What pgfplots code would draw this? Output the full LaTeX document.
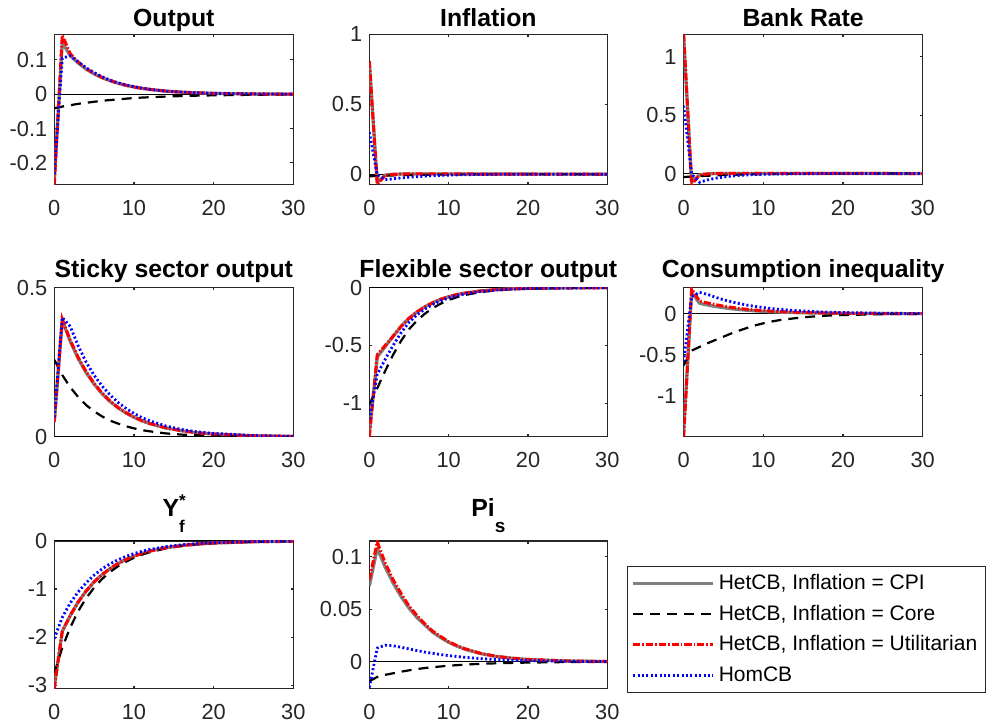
\documentclass[border=0pt]{standalone}
\usepackage{fontspec}
\setmainfont{Liberation Sans}
\usepackage{pgfplots}
\pgfplotsset{compat=1.18}
\definecolor{mgray}{rgb}{0.15,0.15,0.15}
\definecolor{cgray}{rgb}{0.5,0.5,0.5}
\pgfplotsset{
  panel/.style={scale only axis, anchor=south west, xmin=0, xmax=30,
    xtick={0,10,20,30}, xticklabels={0,10,20,30},
    axis line style={draw=mgray, line width=0.55pt},
    tick style={draw=mgray, line width=0.55pt}, major tick length=1.4pt, tick align=inside,
    ticklabel style={font=\fontsize{10.9}{12}\selectfont, text=mgray},
    xticklabel style={yshift=-4.2pt},
    /pgf/number format/assume math mode=true,
    every axis title/.style={font=\bfseries\fontsize{12.4}{14}\selectfont, at={(0.5,1)}, anchor=base, inner sep=0pt},
    clip=true},
  s1/.style={draw=cgray, line width=1.6pt, line join=round, solid},
  s2/.style={draw=black, line width=1.1pt, dash pattern=on 5pt off 3.5pt},
  s3/.style={draw=red, line width=1.5pt, dash pattern=on 3.6pt off 1pt on 0.8pt off 1pt},
  s4/.style={draw=blue, line width=1.4pt, dash pattern=on 1pt off 1.2pt},
  zl/.style={draw=black, line width=0.5pt, solid},
}
\begin{document}
\begin{tikzpicture}
\path[use as bounding box] (0,0) rectangle (496pt,362pt);
% ---------- Output ----------
\begin{axis}[panel, at={(27.15pt,269.75pt)}, width=119.5pt, height=75pt,
  ymin=-0.263, ymax=0.174, ytick={-0.2,-0.1,0,0.1}, yticklabels={-0.2,-0.1,0,0.1},
  title={Output}, title style={yshift=3.9pt}]
\addplot[zl] coordinates {(0,0) (30,0)};
\addplot[s1] coordinates {(0,-0.25)(1,0.15)(2,0.112)(3,0.091)(4,0.073)(5,0.059)(6,0.048)(7,0.039)(8,0.032)(9,0.026)(10,0.021)(11,0.017)(12,0.014)(14,0.009)(16,0.006)(18,0.004)(20,0.0025)(25,0.0008)(30,0.0002)};
\addplot[s2] coordinates {(0,-0.041)(1,-0.036)(2,-0.032)(3,-0.028)(4,-0.025)(5,-0.022)(6,-0.019)(7,-0.017)(8,-0.015)(9,-0.013)(10,-0.011)(11,-0.0098)(12,-0.0087)(14,-0.0068)(16,-0.0053)(18,-0.0041)(20,-0.0032)(25,-0.0016)(30,-0.0008)};
\addplot[s3] coordinates {(0,-0.263)(1,0.172)(2,0.118)(3,0.094)(4,0.075)(5,0.06)(6,0.049)(7,0.04)(8,0.032)(9,0.026)(10,0.021)(11,0.017)(12,0.014)(14,0.009)(16,0.006)(18,0.004)(20,0.0025)(25,0.0008)(30,0.0002)};
\addplot[s4] coordinates {(0,-0.232)(1,0.105)(2,0.112)(3,0.094)(4,0.077)(5,0.063)(6,0.051)(7,0.041)(8,0.033)(9,0.027)(10,0.022)(11,0.018)(12,0.014)(14,0.009)(16,0.006)(18,0.004)(20,0.0025)(25,0.0008)(30,0.0002)};
\end{axis}
% ---------- Inflation ----------
\begin{axis}[panel, at={(184.67pt,269.75pt)}, width=119pt, height=75pt,
  ymin=-0.074, ymax=1, ytick={0,0.5,1}, yticklabels={0,0.5,1},
  title={Inflation}, title style={yshift=3.9pt}]
\addplot[zl] coordinates {(0,0) (30,0)};
\addplot[s1] coordinates {(0,0.80)(1,-0.06)(2,-0.006)(3,-0.001)(4,0.001)(6,0.002)(8,0.002)(10,0.002)(14,0.001)(20,0.0005)(30,0)};
\addplot[s2] coordinates {(0,-0.015)(1,-0.013)(2,-0.011)(3,-0.009)(4,-0.0075)(5,-0.006)(6,-0.005)(8,-0.0033)(10,-0.0022)(12,-0.0014)(14,-0.0009)(16,-0.0006)(20,-0.0002)(30,0)};
\addplot[s3] coordinates {(0,0.81)(1,-0.074)(2,-0.008)(3,-0.002)(4,0.001)(6,0.002)(8,0.002)(10,0.002)(14,0.001)(20,0.0005)(30,0)};
\addplot[s4] coordinates {(0,0.30)(1,-0.005)(2,-0.04)(3,-0.033)(4,-0.027)(5,-0.022)(6,-0.018)(7,-0.014)(8,-0.011)(10,-0.007)(12,-0.004)(14,-0.002)(16,-0.001)(20,0)(30,0)};
\end{axis}
% ---------- Bank Rate ----------
\begin{axis}[panel, at={(341.83pt,269.75pt)}, width=119.5pt, height=75pt,
  ymin=-0.094, ymax=1.19, ytick={0,0.5,1}, yticklabels={0,0.5,1},
  title={Bank Rate}, title style={yshift=3.9pt}]
\addplot[zl] coordinates {(0,0) (30,0)};
\addplot[s1] coordinates {(0,1.17)(1,-0.075)(2,-0.01)(3,-0.003)(4,0)(6,0.001)(10,0.001)(15,0.0005)(30,0)};
\addplot[s2] coordinates {(0,-0.03)(1,-0.026)(2,-0.022)(3,-0.019)(4,-0.016)(5,-0.013)(6,-0.011)(7,-0.009)(8,-0.0075)(10,-0.005)(12,-0.0035)(14,-0.0025)(16,-0.0017)(20,-0.0008)(25,-0.0003)(30,0)};
\addplot[s3] coordinates {(0,1.19)(1,-0.094)(2,-0.012)(3,-0.004)(4,0)(6,0.001)(10,0.001)(15,0.0005)(30,0)};
\addplot[s4] coordinates {(0,0.58)(1,-0.005)(2,-0.075)(3,-0.055)(4,-0.04)(5,-0.03)(6,-0.022)(7,-0.016)(8,-0.012)(9,-0.009)(10,-0.007)(11,-0.005)(12,-0.004)(14,-0.002)(16,-0.001)(20,0)(30,0)};
\end{axis}
% ---------- Sticky sector output ----------
\begin{axis}[panel, at={(27.15pt,143.65pt)}, width=119.5pt, height=74.5pt,
  ymin=0, ymax=0.5, ytick={0,0.5}, yticklabels={0,0.5},
  title={Sticky sector output}, title style={yshift=5.2pt}]
\addplot[zl] coordinates {(0,0) (30,0)};
\addplot[s1] coordinates {(0,0.05)(1,0.39)(2,0.32)(3,0.262)(4,0.215)(5,0.176)(6,0.144)(7,0.118)(8,0.097)(9,0.079)(10,0.065)(11,0.053)(12,0.044)(14,0.029)(16,0.02)(18,0.013)(20,0.009)(25,0.003)(30,0.001)};
\addplot[s2] coordinates {(0,0.258)(1,0.207)(2,0.166)(3,0.133)(4,0.106)(5,0.085)(6,0.068)(7,0.054)(8,0.044)(9,0.035)(10,0.028)(11,0.022)(12,0.018)(14,0.011)(16,0.007)(18,0.005)(20,0.003)(25,0.001)(30,0)};
\addplot[s3] coordinates {(0,0.05)(1,0.395)(2,0.324)(3,0.266)(4,0.218)(5,0.179)(6,0.146)(7,0.12)(8,0.098)(9,0.081)(10,0.066)(11,0.054)(12,0.044)(14,0.03)(16,0.02)(18,0.013)(20,0.009)(25,0.003)(30,0.001)};
\addplot[s4] coordinates {(0,0.065)(1,0.40)(2,0.37)(3,0.305)(4,0.25)(5,0.206)(6,0.17)(7,0.14)(8,0.115)(9,0.095)(10,0.078)(11,0.064)(12,0.053)(14,0.036)(16,0.024)(18,0.016)(20,0.011)(25,0.004)(30,0.001)};
\end{axis}
% ---------- Flexible sector output ----------
\begin{axis}[panel, at={(184.67pt,143.65pt)}, width=119pt, height=74.5pt,
  ymin=-1.29, ymax=0, ytick={-1,-0.5,0}, yticklabels={-1,-0.5,0},
  title={Flexible sector output}, title style={yshift=5.2pt}]
\addplot[zl] coordinates {(0,0) (30,0)};
\addplot[s1] coordinates {(0,-1.26)(1,-0.60)(2,-0.51)(3,-0.42)(4,-0.335)(5,-0.265)(6,-0.21)(7,-0.165)(8,-0.13)(9,-0.1)(10,-0.078)(11,-0.06)(12,-0.047)(14,-0.028)(16,-0.017)(18,-0.01)(20,-0.006)(25,-0.002)(30,0)};
\addplot[s2] coordinates {(0,-1.01)(1,-0.87)(2,-0.72)(3,-0.58)(4,-0.46)(5,-0.36)(6,-0.285)(7,-0.225)(8,-0.177)(9,-0.138)(10,-0.107)(11,-0.083)(12,-0.064)(14,-0.038)(16,-0.023)(18,-0.014)(20,-0.008)(25,-0.002)(30,0)};
\addplot[s3] coordinates {(0,-1.29)(1,-0.58)(2,-0.5)(3,-0.42)(4,-0.335)(5,-0.265)(6,-0.21)(7,-0.165)(8,-0.13)(9,-0.1)(10,-0.078)(11,-0.06)(12,-0.047)(14,-0.028)(16,-0.017)(18,-0.01)(20,-0.006)(25,-0.002)(30,0)};
\addplot[s4] coordinates {(0,-1.14)(1,-0.75)(2,-0.62)(3,-0.5)(4,-0.39)(5,-0.3)(6,-0.235)(7,-0.185)(8,-0.145)(9,-0.113)(10,-0.088)(11,-0.069)(12,-0.054)(14,-0.033)(16,-0.02)(18,-0.012)(20,-0.007)(25,-0.002)(30,0)};
\end{axis}
% ---------- Consumption inequality ----------
\begin{axis}[panel, at={(341.83pt,143.65pt)}, width=119.5pt, height=74.5pt,
  ymin=-1.5, ymax=0.317, ytick={-1,-0.5,0}, yticklabels={-1,-0.5,0},
  title={Consumption inequality}, title style={yshift=5.2pt}]
\addplot[zl] coordinates {(0,0) (30,0)};
\addplot[s1] coordinates {(0,-1.45)(1,0.26)(2,0.126)(3,0.105)(4,0.088)(5,0.073)(6,0.06)(7,0.05)(8,0.041)(9,0.034)(10,0.028)(11,0.023)(12,0.019)(14,0.013)(16,0.009)(18,0.006)(20,0.004)(25,0.0015)(30,0.0005)};
\addplot[s2] coordinates {(0,-0.63)(1,-0.45)(2,-0.405)(3,-0.36)(4,-0.32)(5,-0.28)(6,-0.24)(7,-0.205)(8,-0.172)(9,-0.142)(10,-0.117)(11,-0.096)(12,-0.079)(14,-0.055)(16,-0.036)(18,-0.024)(20,-0.016)(25,-0.006)(30,-0.002)};
\addplot[s3] coordinates {(0,-1.5)(1,0.30)(2,0.155)(3,0.13)(4,0.11)(5,0.092)(6,0.077)(7,0.064)(8,0.053)(9,0.044)(10,0.037)(11,0.031)(12,0.026)(14,0.018)(16,0.012)(18,0.008)(20,0.006)(25,0.002)(30,0.001)};
\addplot[s4] coordinates {(0,-0.585)(1,0.21)(2,0.26)(3,0.235)(4,0.2)(5,0.17)(6,0.145)(7,0.123)(8,0.104)(9,0.088)(10,0.075)(11,0.063)(12,0.053)(14,0.038)(16,0.027)(18,0.019)(20,0.014)(25,0.005)(30,0.002)};
\end{axis}
% ---------- Y_f^* ----------
\begin{axis}[panel, at={(27.15pt,17.75pt)}, width=119.5pt, height=73.75pt,
  ymin=-3.07, ymax=0, ytick={-3,-2,-1,0}, yticklabels={-3,-2,-1,0},
  title={Y\rlap{\raisebox{5.4pt}{\fontsize{8.5}{9}\selectfont *}}\raisebox{-7.6pt}{\fontsize{8.5}{9}\selectfont f}}, title style={yshift=12pt}]
\addplot[zl] coordinates {(0,0) (30,0)};
\addplot[s1] coordinates {(0,-3.03)(1,-1.88)(2,-1.55)(3,-1.27)(4,-1.04)(5,-0.85)(6,-0.7)(7,-0.575)(8,-0.47)(9,-0.385)(10,-0.315)(11,-0.26)(12,-0.21)(14,-0.14)(16,-0.095)(18,-0.063)(20,-0.042)(25,-0.015)(30,-0.005)};
\addplot[s2] coordinates {(0,-2.76)(1,-2.22)(2,-1.8)(3,-1.46)(4,-1.19)(5,-0.97)(6,-0.79)(7,-0.645)(8,-0.525)(9,-0.43)(10,-0.35)(11,-0.285)(12,-0.233)(14,-0.155)(16,-0.103)(18,-0.069)(20,-0.046)(25,-0.016)(30,-0.006)};
\addplot[s3] coordinates {(0,-3.07)(1,-1.88)(2,-1.55)(3,-1.27)(4,-1.04)(5,-0.85)(6,-0.7)(7,-0.575)(8,-0.47)(9,-0.385)(10,-0.315)(11,-0.26)(12,-0.21)(14,-0.14)(16,-0.095)(18,-0.063)(20,-0.042)(25,-0.015)(30,-0.005)};
\addplot[s4] coordinates {(0,-2.03)(1,-1.59)(2,-1.29)(3,-1.06)(4,-0.87)(5,-0.71)(6,-0.58)(7,-0.475)(8,-0.39)(9,-0.32)(10,-0.262)(11,-0.215)(12,-0.176)(14,-0.118)(16,-0.079)(18,-0.053)(20,-0.035)(25,-0.012)(30,-0.004)};
\end{axis}
% ---------- Pi_s ----------
\begin{axis}[panel, at={(184.67pt,17.75pt)}, width=119pt, height=73.75pt,
  ymin=-0.0255, ymax=0.115, ytick={0,0.05,0.1}, yticklabels={0,0.05,0.1},
  title={Pi\raisebox{-7.8pt}{\fontsize{9.5}{10}\selectfont s}}, title style={yshift=12pt}]
\addplot[zl] coordinates {(0,0) (30,0)};
\addplot[s1] coordinates {(0,0.072)(1,0.108)(2,0.09)(3,0.075)(4,0.062)(5,0.051)(6,0.042)(7,0.035)(8,0.028)(9,0.023)(10,0.0185)(11,0.015)(12,0.012)(14,0.0078)(16,0.005)(18,0.0033)(20,0.0021)(25,0.0007)(30,0.0002)};
\addplot[s2] coordinates {(0,-0.0185)(1,-0.0145)(2,-0.0125)(3,-0.011)(4,-0.0095)(5,-0.0082)(6,-0.007)(7,-0.006)(8,-0.0052)(9,-0.0045)(10,-0.0038)(11,-0.0033)(12,-0.0028)(14,-0.002)(16,-0.0015)(18,-0.0011)(20,-0.0008)(25,-0.0003)(30,-0.0001)};
\addplot[s3] coordinates {(0,0.078)(1,0.114)(2,0.094)(3,0.078)(4,0.065)(5,0.053)(6,0.044)(7,0.036)(8,0.029)(9,0.024)(10,0.019)(11,0.0155)(12,0.0125)(14,0.008)(16,0.0052)(18,0.0034)(20,0.0022)(25,0.0007)(30,0.0002)};
\addplot[s4] coordinates {(0,-0.0245)(1,0.013)(2,0.0158)(3,0.0152)(4,0.0138)(5,0.0122)(6,0.0106)(7,0.0092)(8,0.008)(9,0.0068)(10,0.0058)(11,0.005)(12,0.0042)(14,0.003)(16,0.0021)(18,0.0015)(20,0.001)(25,0.0004)(30,0.0001)};
\end{axis}
% ---------- Legend ----------
\begin{axis}[at={(313.5pt,15.5pt)}, anchor=south west, hide axis, scale only axis,
  width=10pt, height=10pt, xmin=0, xmax=1, ymin=0, ymax=1,
  legend style={at={(0,0)}, anchor=south west, draw=mgray, line width=0.55pt,
    font=\fontsize{10.5}{12}\selectfont, legend cell align=left,
    inner xsep=2pt, inner ysep=1.6pt, row sep=1.5pt,
    nodes={inner sep=2pt, text height=7.8pt, text depth=2pt},
    /tikz/every even column/.append style={column sep=0pt}},
  legend image code/.code={\draw[#1] (0pt,0pt) -- (40pt,0pt);}]
\addlegendimage{s1}\addlegendentry{HetCB, Inflation = CPI}
\addlegendimage{s2}\addlegendentry{HetCB, Inflation = Core}
\addlegendimage{s3}\addlegendentry{HetCB, Inflation = Utilitarian}
\addlegendimage{s4}\addlegendentry{HomCB}
\end{axis}
\end{tikzpicture}
\end{document}
